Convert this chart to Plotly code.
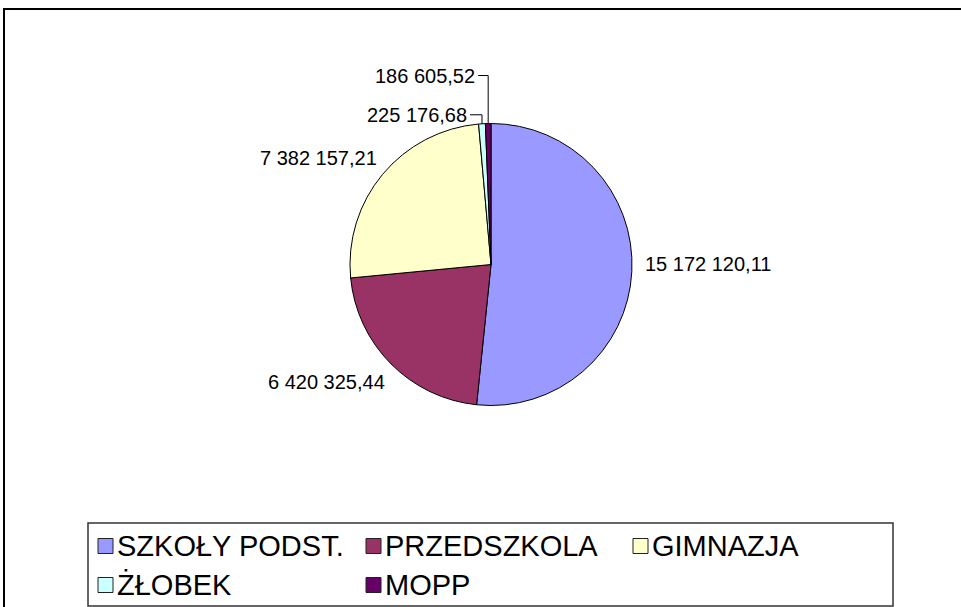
import math
import plotly.graph_objects as go

# Wydatki według jednostek
categories = ["SZKOŁY PODST.", "PRZEDSZKOLA", "GIMNAZJA", "ŻŁOBEK", "MOPP"]
values = [15172120.11, 6420325.44, 7382157.21, 225176.68, 186605.52]
colors = ["#9999FF", "#993366", "#FFFFCC", "#CCFFFF", "#660066"]

W, H = 961, 607
CX, CY, R = 491, 264.5, 141  # pie centre and radius (px)

# label placement relative to the slice's outer edge point: (dx, dy, anchor, leader)
label_style = [
    (11, -8, "left", False),
    (-4, 18, "right", False),
    (-4, -16, "right", False),
    (-13, -9, "right", True),
    (-11, -48, "right", True),
]

# legend layout (px)
legend_box = (88, 523, 893, 606)
legend_cols = [98, 366, 633]
legend_rows = [546, 585]
legend_per_row = 3
swatch = 15
legend_font = 29


def px(x):
    return x / W


def py(y):
    return 1 - y / H


def fmt(v):
    return f"{v:,.2f}".replace(",", " ").replace(".", ",")


fig = go.Figure(
    go.Pie(
        labels=categories,
        values=values,
        sort=False,
        direction="clockwise",
        rotation=0,
        marker=dict(colors=colors, line=dict(color="black", width=1)),
        textinfo="none",
        hoverinfo="label+value+percent",
        showlegend=False,
        domain=dict(x=[px(CX - R), px(CX + R)], y=[py(CY + R), py(CY - R)]),
    )
)

annotations = []
shapes = []

total = sum(values)
cum = 0.0
for v, (dx, dy, anchor, leader) in zip(values, label_style):
    mid = (cum + v / 2) / total * 2 * math.pi
    cum += v
    ex = CX + R * math.sin(mid)
    ey = CY - R * math.cos(mid)
    lx, ly = ex + dx, ey + dy
    annotations.append(
        dict(
            x=px(lx), y=py(ly), xref="paper", yref="paper",
            text=fmt(v), showarrow=False, xanchor=anchor, yanchor="middle",
            font=dict(family="Liberation Sans, Arial", size=20, color="black"),
        )
    )
    if leader:
        shapes.append(
            dict(
                type="path", xref="paper", yref="paper",
                path=f"M {px(ex)},{py(ey)} L {px(ex)},{py(ly)} L {px(lx + 1)},{py(ly)}",
                line=dict(color="black", width=1),
            )
        )

# chart frame
shapes.append(
    dict(type="rect", xref="paper", yref="paper",
         x0=px(4), y0=-0.02, x1=1.02, y1=py(9),
         line=dict(color="black", width=2))
)

# legend
bx0, by0, bx1, by1 = legend_box
shapes.append(
    dict(type="rect", xref="paper", yref="paper",
         x0=px(bx0), y0=py(by1), x1=px(bx1), y1=py(by0),
         line=dict(color="#333333", width=1.5), fillcolor="white")
)
for i, (name, col) in enumerate(zip(categories, colors)):
    r, c = divmod(i, legend_per_row)
    sx, sy = legend_cols[c], legend_rows[r]
    shapes.append(
        dict(type="rect", xref="paper", yref="paper",
             x0=px(sx), x1=px(sx + swatch),
             y0=py(sy + swatch / 2), y1=py(sy - swatch / 2),
             fillcolor=col, line=dict(color="#222222", width=1))
    )
    annotations.append(
        dict(x=px(sx + swatch + 2), y=py(sy), xref="paper", yref="paper",
             text=name, showarrow=False, xanchor="left", yanchor="middle",
             font=dict(family="Liberation Sans, Arial", size=legend_font, color="black"))
    )

fig.update_layout(
    width=W, height=H,
    margin=dict(l=0, r=0, t=0, b=0),
    paper_bgcolor="white",
    plot_bgcolor="white",
    annotations=annotations,
    shapes=shapes,
)

fig.write_html("out.html")
